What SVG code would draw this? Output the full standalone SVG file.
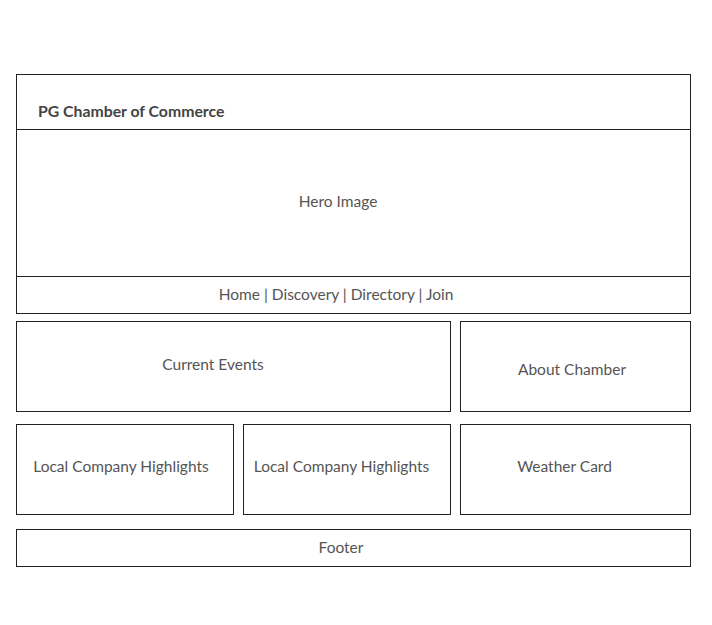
<svg xmlns="http://www.w3.org/2000/svg" width="712" height="625" viewBox="0 0 712 625">
<style>
.box{fill:#fff;stroke:#222;stroke-width:1}
.t{font-family:Lato,"Open Sans",sans-serif;font-size:15.5px;fill:#555;text-anchor:middle}
.b{font-family:Lato,"Open Sans",sans-serif;font-size:15.8px;font-weight:bold;fill:#444}
</style>
<rect width="712" height="625" fill="#fff"/>
<g id="header"><rect class="box" x="16.5" y="74.5" width="674" height="55"/><text class="b" x="38" y="117">PG Chamber of Commerce</text></g>
<g id="hero"><rect class="box" x="16.5" y="129.5" width="674" height="147"/><text class="t" x="338" y="207">Hero Image</text></g>
<g id="nav"><rect class="box" x="16.5" y="276.5" width="674" height="37"/><text class="t" x="336" y="300">Home | Discovery | Directory | Join</text></g>
<g id="events"><rect class="box" x="16.5" y="321.5" width="434" height="90"/><text class="t" x="213" y="370">Current Events</text></g>
<g id="about"><rect class="box" x="460.5" y="321.5" width="230" height="90"/><text class="t" x="572" y="375">About Chamber</text></g>
<g id="lch1"><rect class="box" x="16.5" y="424.5" width="217" height="90"/><text class="t" x="121" y="472">Local Company Highlights</text></g>
<g id="lch2"><rect class="box" x="243.5" y="424.5" width="207" height="90"/><text class="t" x="341.5" y="472">Local Company Highlights</text></g>
<g id="weather"><rect class="box" x="460.5" y="424.5" width="230" height="90"/><text class="t" x="564.5" y="472">Weather Card</text></g>
<g id="footer"><rect class="box" x="16.5" y="529.5" width="674" height="37"/><text class="t" x="341" y="553">Footer</text></g>
<g id="connectors"/>
</svg>
